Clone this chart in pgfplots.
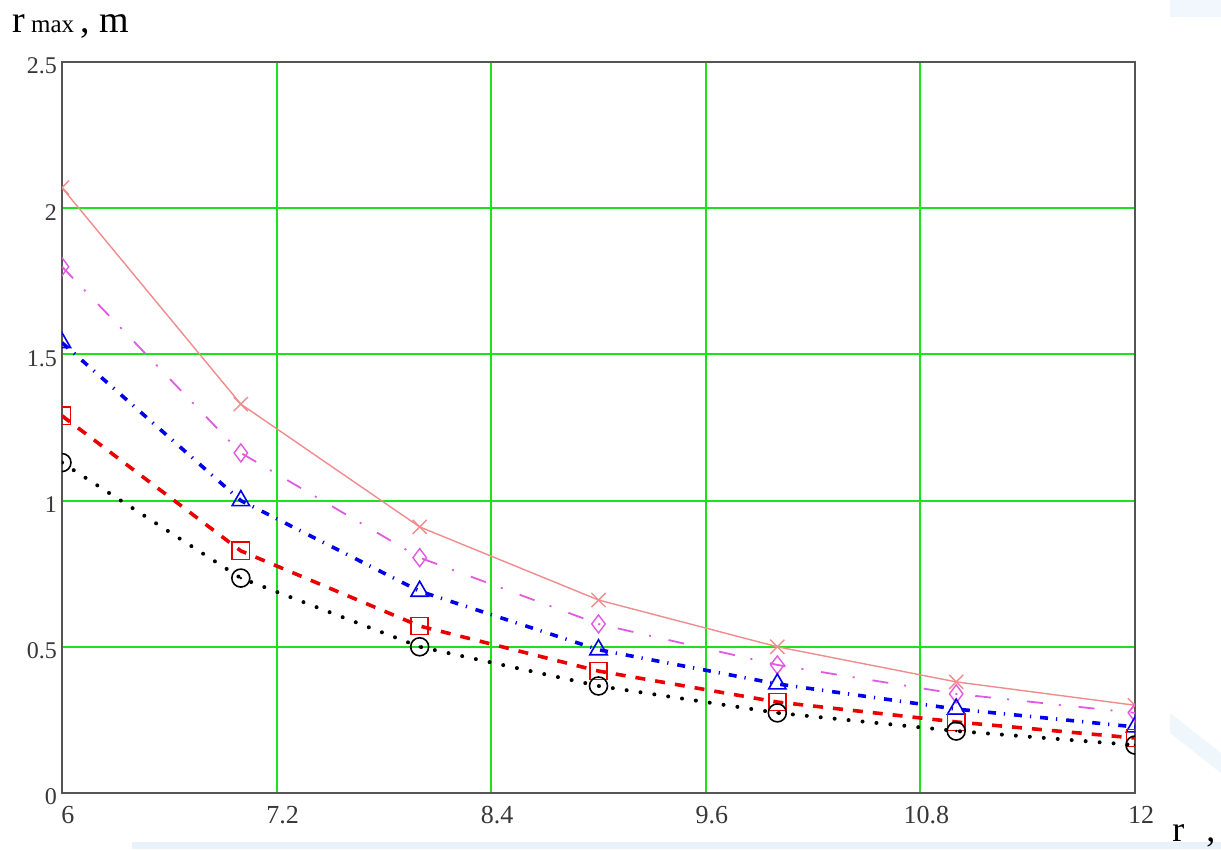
\documentclass[border=0pt]{standalone}
\usepackage{fontspec}
\setmainfont{Liberation Serif}
\usepackage{pgfplots}
\pgfplotsset{compat=1.18}
\definecolor{gridgreen}{RGB}{30,225,30}
\definecolor{pinkc}{RGB}{240,140,140}
\definecolor{magc}{RGB}{225,90,225}
\definecolor{bluec}{RGB}{0,0,235}
\definecolor{redc}{RGB}{235,0,0}
\definecolor{framec}{RGB}{85,85,85}
\definecolor{wmark}{RGB}{232,242,251}
\pgfdeclareplotmark{odot}{%
  \pgfpathcircle{\pgfpointorigin}{\pgfplotmarksize}\pgfusepathqstroke
  \pgfpathcircle{\pgfpointorigin}{0.7pt}\pgfusepathqfill}
\begin{document}
\begin{tikzpicture}
\path[use as bounding box, fill=white] (-31pt,-28.25pt) rectangle (579.5pt,396.5pt);
% faint background watermark
\fill[wmark] (35pt,-28.25pt) rectangle (579.5pt,-24.5pt);
\fill[wmark!60] (554pt,396.5pt) rectangle (579.5pt,388pt);
\fill[wmark!70] (554pt,40pt) -- (579.5pt,20pt) -- (579.5pt,10pt) -- (554pt,30pt) -- cycle;
\begin{axis}[at={(0,0)}, anchor=south west, scale only axis,
  width=536.5pt, height=365.5pt,
  xmin=6, xmax=12, ymin=0, ymax=2.5,
  xtick={6,7.2,8.4,9.6,10.8,12}, ytick={0,0.5,1,1.5,2,2.5},
  xticklabels={6,7.2,8.4,9.6,10.8,12}, yticklabels={0,0.5,1,1.5,2,2.5},
  grid=major, major grid style={draw=gridgreen, line width=1pt},
  axis line style={draw=framec, line width=1pt},
  major tick length=0pt,
  clip marker paths=true,
  xticklabel style={font=\fontsize{13}{15}\selectfont, text=black!78, yshift=-3pt, xshift=3pt},
  yticklabel style={font=\fontsize{12}{14}\selectfont, text=black!78, xshift=1pt, yshift=-2pt},
  /pgf/number format/assume math mode=true,
]
\addplot[color=pinkc, line width=0.7pt, mark=x, mark size=5pt,
  mark options={solid, line width=0.7pt}]
  coordinates {(6,2.07)(7,1.33)(8,0.91)(9,0.66)(10,0.50)(11,0.38)(12,0.30)};
\addplot[color=magc, line width=0.9pt, dash pattern=on 8pt off 8pt on 1pt off 9pt,
  mark=diamond, mark size=4.5pt, mark options={solid, line width=0.7pt}]
  coordinates {(6,1.80)(7,1.163)(8,0.805)(9,0.578)(10,0.438)(11,0.339)(12,0.274)};
\addplot[color=bluec, line width=1.8pt, dash pattern=on 4pt off 4pt on 0.6pt off 4.5pt,
  mark=triangle, mark size=5pt, mark options={solid, line width=0.8pt}]
  coordinates {(6,1.54)(7,1.00)(8,0.69)(9,0.49)(10,0.373)(11,0.287)(12,0.226)};
\addplot[color=redc, line width=1.8pt, dash pattern=on 5pt off 5pt,
  mark=square, mark size=4.3pt, mark options={solid, line width=0.8pt}]
  coordinates {(6,1.29)(7,0.828)(8,0.571)(9,0.417)(10,0.311)(11,0.243)(12,0.188)};
\addplot[color=black, line width=2pt, line cap=round, dash pattern=on 0pt off 7pt,
  mark=odot, mark size=4.5pt, mark options={solid, line width=0.8pt}]
  coordinates {(6,1.13)(7,0.735)(8,0.50)(9,0.366)(10,0.274)(11,0.212)(12,0.164)};
\end{axis}
\node[anchor=base west, inner sep=0pt] at (-25pt,380pt)
  {\fontsize{19}{22}\selectfont r\hspace{3pt}{\fontsize{12.5}{14}\selectfont max}\hspace{3pt},\hspace{5pt}m};
\node[anchor=base west, inner sep=0pt] at (555pt,-24.5pt)
  {\fontsize{18}{21}\selectfont r\hspace{11pt},};
\end{tikzpicture}
\end{document}
